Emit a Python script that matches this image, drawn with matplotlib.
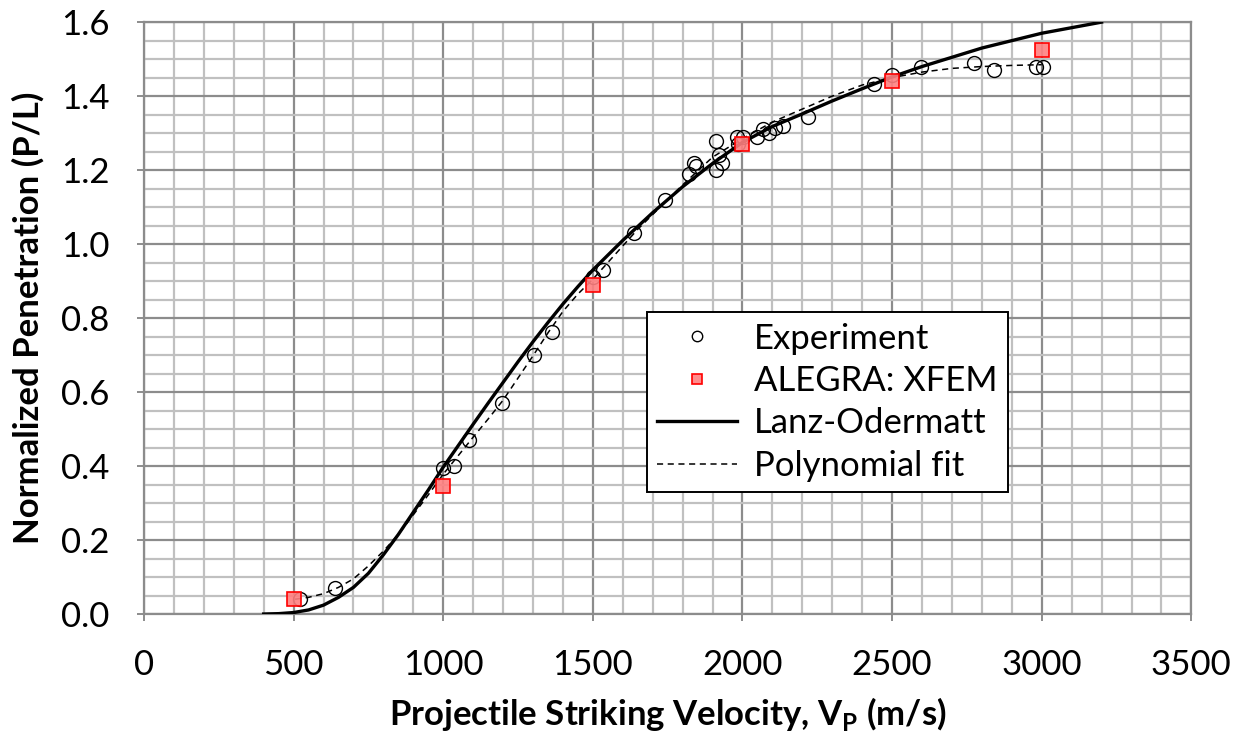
import matplotlib
matplotlib.use("Agg")
import matplotlib.pyplot as plt
from matplotlib.ticker import MultipleLocator

plt.rcParams['font.family'] = ['Lato', 'DejaVu Sans']
plt.rcParams['mathtext.fontset'] = 'custom'
plt.rcParams['mathtext.rm'] = 'Lato'
plt.rcParams['mathtext.bf'] = 'Lato:bold'

# Experiment data (velocity m/s, P/L)
exp_v = [520, 640, 1000, 1035, 1085, 1197, 1305, 1364, 1500, 1535, 1636,
         1742, 1820, 1837, 1846, 1910, 1910, 1920, 1933, 1983, 2003, 1985,
         2049, 2067, 2087, 2110, 2137, 2220, 2438, 2500, 2598, 2775, 2842,
         2980, 3005]
exp_pl = [0.04, 0.07, 0.395, 0.40, 0.47, 0.57, 0.70, 0.762, 0.91, 0.93, 1.03,
          1.12, 1.19, 1.22, 1.21, 1.28, 1.20, 1.24, 1.22, 1.29, 1.29, 1.27,
          1.29, 1.31, 1.30, 1.315, 1.32, 1.343, 1.432, 1.457, 1.48, 1.49, 1.47,
          1.48, 1.48]

# ALEGRA: XFEM simulations
alegra_v = [500, 1000, 1500, 2000, 2500, 3000]
alegra_pl = [0.04, 0.345, 0.89, 1.27, 1.44, 1.525]

# Lanz-Odermatt curve
lo_v = [400, 450, 500, 550, 600, 650, 700, 750, 800, 850, 900, 950, 1000,
        1050, 1100, 1150, 1200, 1250, 1300, 1350, 1400, 1450, 1500, 1600,
        1700, 1800, 1900, 2000, 2100, 2200, 2300, 2400, 2500, 2600, 2700,
        2800, 2900, 3000, 3100, 3200]
lo_pl = [0.0, 0.001, 0.004, 0.011, 0.024, 0.045, 0.072, 0.110, 0.160, 0.215,
         0.275, 0.335, 0.397, 0.455, 0.513, 0.570, 0.626, 0.682, 0.736,
         0.788, 0.838, 0.885, 0.930, 1.010, 1.085, 1.155, 1.218, 1.275, 1.318,
         1.352, 1.387, 1.42, 1.452, 1.48, 1.505, 1.53, 1.55, 1.57, 1.585, 1.60]

# Polynomial fit
poly_v = [505, 550, 600, 650, 700, 750, 800, 850, 900, 950, 1000, 1050, 1100,
          1150, 1200, 1250, 1300, 1350, 1400, 1450, 1500, 1550, 1600, 1650,
          1700, 1800, 1900, 2000, 2100, 2200, 2300, 2400, 2500, 2600, 2700,
          2800, 2900, 3000]
poly_pl = [0.040, 0.045, 0.055, 0.072, 0.095, 0.13, 0.17, 0.215, 0.268, 0.322,
           0.378, 0.428, 0.478, 0.527, 0.578, 0.638, 0.698, 0.76, 0.818,
           0.865, 0.905, 0.950, 0.995, 1.04, 1.08, 1.16, 1.235, 1.285, 1.33,
           1.365, 1.40, 1.43, 1.45, 1.465, 1.475, 1.48, 1.483, 1.485]

fig = plt.figure(figsize=(12.41, 7.38), dpi=100)
ax = fig.add_axes([0.116, 0.168, 0.844, 0.802])

ax.plot(poly_v, poly_pl, color='black', lw=1.1, ls=(0, (4, 3)),
        label='Polynomial fit', zorder=4)
ax.plot(lo_v, lo_pl, color='black', lw=2.4, label='Lanz-Odermatt', zorder=3)
ax.plot(exp_v, exp_pl, ls='none', marker='o', ms=10, mfc='none',
        mec='black', mew=1.0, label='Experiment', zorder=5)
ax.plot(alegra_v, alegra_pl, ls='none', marker='s', ms=10.5,
        mfc=(1.0, 0.5, 0.5, 0.9), mec='red', mew=1.2,
        label='ALEGRA: XFEM', zorder=6)

ax.set_xlim(0, 3500)
ax.set_ylim(0, 1.6)
ax.xaxis.set_major_locator(MultipleLocator(500))
ax.xaxis.set_minor_locator(MultipleLocator(100))
ax.yaxis.set_major_locator(MultipleLocator(0.2))
ax.yaxis.set_minor_locator(MultipleLocator(0.05))
ax.yaxis.set_major_formatter(plt.FormatStrFormatter('%.1f'))

ax.grid(which='minor', color='#c0c0c0', lw=1.6)
ax.grid(which='major', color='#8c8c8c', lw=1.6)
ax.set_axisbelow(True)
for s in ax.spines.values():
    s.set_color('#8c8c8c')
    s.set_linewidth(1.6)

ax.tick_params(which='major', direction='inout', length=10, width=1.4,
               color='#8c8c8c', labelsize=25)
ax.tick_params(axis='x', which='major', pad=20)
ax.tick_params(axis='y', which='major', pad=20)
ax.tick_params(which='minor', length=0)

ax.set_xlabel(r'Projectile Striking Velocity, V$_\mathbf{P}$ (m/s)',
              fontsize=25, fontweight='bold', labelpad=10)
ax.set_ylabel('Normalized Penetration (P/L)', fontsize=25,
              fontweight='bold', labelpad=12)

handles, labels = ax.get_legend_handles_labels()
order = [2, 3, 1, 0]
leg = ax.legend([handles[i] for i in order], [labels[i] for i in order],
                loc='upper left', bbox_to_anchor=(0.480, 0.510),
                fontsize=25, frameon=True, fancybox=False, framealpha=1,
                edgecolor='black', handlelength=2.3, handletextpad=0.5,
                borderpad=0.3, borderaxespad=0, labelspacing=0.3,
                markerscale=0.75)
leg.get_frame().set_linewidth(1.4)

fig.savefig('out.png', dpi=100)
